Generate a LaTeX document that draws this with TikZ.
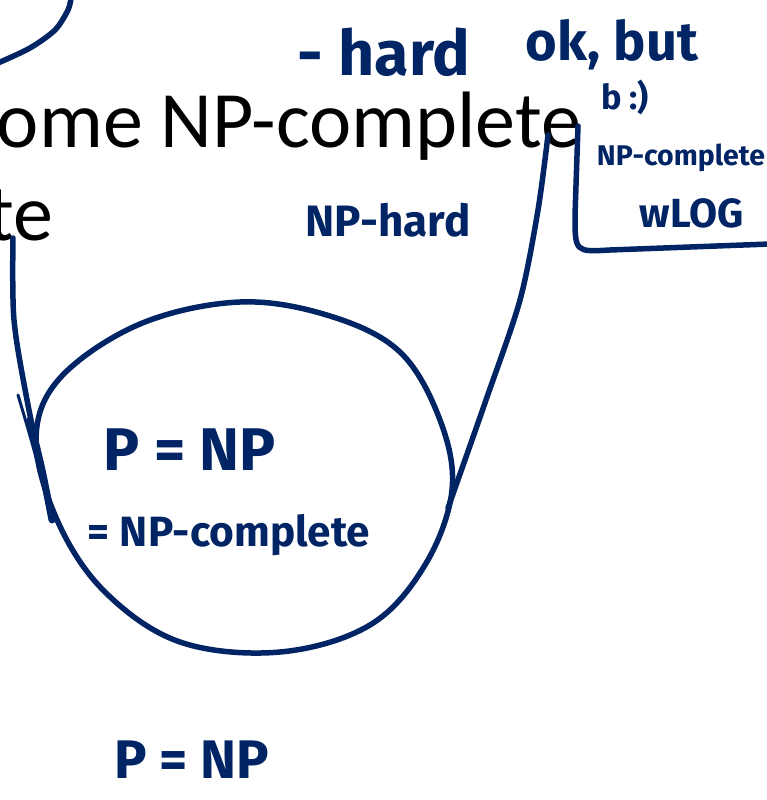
\documentclass[tikz,border=0pt]{standalone}
\usepackage{fontspec}
\usepackage{graphicx}
\newfontfamily\titlefont{Carlito}
\newfontfamily\handfont{Fira Sans}
\definecolor{ink}{RGB}{0,36,100}
\newcommand\hw[2]{\resizebox{#1pt}{!}{\handfont\bfseries #2}}
\tikzset{
  pen/.style={draw=ink, line width=5.5pt, line cap=round, line join=round},
  hand/.style={text=ink, inner sep=0pt},
  typed/.style={text=black, inner sep=0pt, font=\titlefont\fontsize{80}{92}\selectfont}
}
\begin{document}
\begin{tikzpicture}[x=1pt,y=-1pt]
\clip (0,0) rectangle (767,800);
\fill[white] (0,0) rectangle (767,800);

% typed slide text
\node[typed, anchor=base east] (title1) at (581,147) {ome NP-complete};
\node[typed, anchor=base east] (title2) at (53,240) {te};

% top-left arc
\draw[pen] plot[smooth] coordinates {(-2,63) (30,48) (55,30) (68,10) (71,-2)};

% handwritten notes
\node[hand] (hard) at (384,52) {\hw{172}{- hard}};
\node[hand] (okbut) at (612,45) {\hw{172}{ok, but}};
\node[hand] (bsmile) at (625,97) {\hw{48}{b :)}};
\node[hand] (npcomp) at (681,158) {\hw{168}{NP-complete}};
\node[hand] (wlog) at (692,213) {\hw{104}{wLOG}};
\node[hand] (nphard) at (388,220) {\hw{165}{NP-hard}};

% bracket around note
\coordinate (b1) at (578,126);
\coordinate (b2) at (770,244);
\draw[pen] (b1) -- (575,215) .. controls (575,252) .. (610,250) -- (b2);

% circle
\draw[pen] plot[smooth cycle, tension=0.6] coordinates {
 (240,302) (330,316) (400,352) (440,420) (452,490) (425,565) (370,625)
 (280,652) (180,642) (105,592) (58,522) (36,440) (60,378) (140,324)};
\coordinate (circL) at (52,520);
\coordinate (circR) at (448,508);

% connectors from text to circle
\coordinate (lt) at (13,238);
\coordinate (rt) at (548,135);
\draw[pen] plot[smooth] coordinates {(lt) (14,320) (28,405) (circL)};
\draw[pen, line width=3pt] plot[smooth] coordinates {(18,395) (34,450) (circL)};
\draw[pen, line width=7pt] plot[smooth] coordinates {(30,420) (42,470) (circL)};
\draw[pen] plot[smooth] coordinates {(rt) (538,210) (520,300) (486,400) (circR)};

% text in circle
\node[hand] (pnp1) at (190,450) {\hw{172}{P = NP}};
\node[hand] (npc2) at (229,535) {\hw{282}{= NP-complete}};

% bottom
\node[hand] (pnp2) at (192,760) {\hw{155}{P = NP}};
\end{tikzpicture}
\end{document}
